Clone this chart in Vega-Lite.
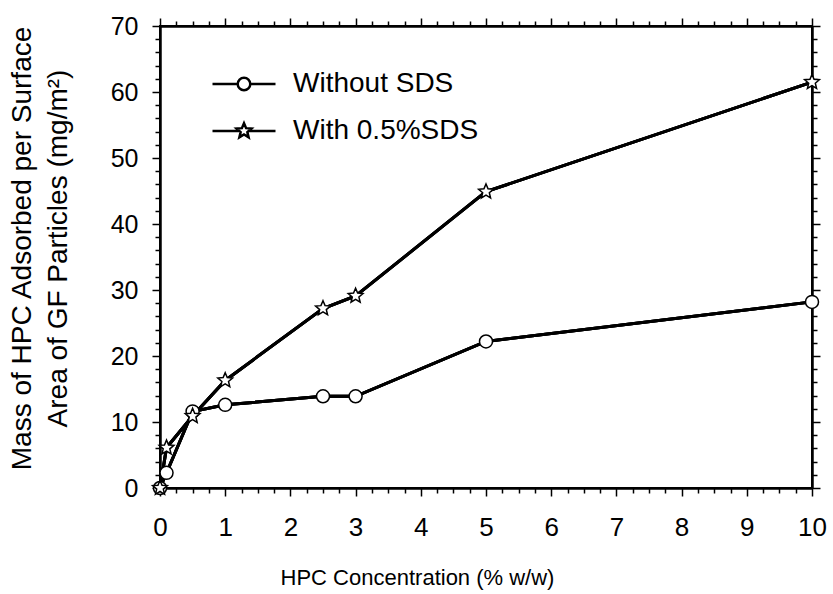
{
  "$schema": "https://vega.github.io/schema/vega-lite/v6.json",
  "autosize": "none",
  "width": 652,
  "height": 462,
  "padding": {"left": 160, "top": 26, "right": 21, "bottom": 106},
  "background": "white",
  "config": {
    "font": "Liberation Sans",
    "view": {"stroke": "black", "strokeWidth": 2}
  },
  "data": {
    "values": [
      {"conc": 0, "mass": 0, "series": "Without SDS"},
      {"conc": 0.1, "mass": 2.3, "series": "Without SDS"},
      {"conc": 0.5, "mass": 11.6, "series": "Without SDS"},
      {"conc": 1, "mass": 12.6, "series": "Without SDS"},
      {"conc": 2.5, "mass": 13.9, "series": "Without SDS"},
      {"conc": 3, "mass": 13.9, "series": "Without SDS"},
      {"conc": 5, "mass": 22.2, "series": "Without SDS"},
      {"conc": 10, "mass": 28.2, "series": "Without SDS"},
      {"conc": 0, "mass": 0, "series": "With 0.5%SDS"},
      {"conc": 0.1, "mass": 6.1, "series": "With 0.5%SDS"},
      {"conc": 0.5, "mass": 10.9, "series": "With 0.5%SDS"},
      {"conc": 1, "mass": 16.3, "series": "With 0.5%SDS"},
      {"conc": 2.5, "mass": 27.2, "series": "With 0.5%SDS"},
      {"conc": 3, "mass": 29.1, "series": "With 0.5%SDS"},
      {"conc": 5, "mass": 44.9, "series": "With 0.5%SDS"},
      {"conc": 10, "mass": 61.5, "series": "With 0.5%SDS"}
    ]
  },
  "resolve": {"axis": {"x": "independent", "y": "independent"}, "scale": {"shape": "independent"}},
  "layer": [
    {
      "mark": {"type": "line", "color": "black", "strokeWidth": 3, "clip": false},
      "encoding": {
        "x": {"field": "conc", "type": "quantitative", "scale": {"domain": [0, 10], "nice": false, "zero": false},
          "axis": {"orient": "bottom", "title": null, "labels": false, "grid": false, "tickSize": 5, "tickColor": "black", "tickWidth": 1.5, "domainColor": "black", "domainWidth": 2,
            "values": [0.25,0.5,0.75,1.25,1.5,1.75,2.25,2.5,2.75,3.25,3.5,3.75,4.25,4.5,4.75,5.25,5.5,5.75,6.25,6.5,6.75,7.25,7.5,7.75,8.25,8.5,8.75,9.25,9.5,9.75]}},
        "y": {"field": "mass", "type": "quantitative", "scale": {"domain": [0, 70], "nice": false},
          "axis": {"orient": "left", "title": null, "labels": false, "grid": false, "tickSize": 5, "tickColor": "black", "tickWidth": 1.5, "domainColor": "black", "domainWidth": 2,
            "values": [2,4,6,8,12,14,16,18,22,24,26,28,32,34,36,38,42,44,46,48,52,54,56,58,62,64,66,68]}},
        "detail": {"field": "series"}
      }
    },
    {
      "mark": {"type": "line", "color": "black", "strokeWidth": 3, "clip": false},
      "encoding": {
        "x": {"field": "conc", "type": "quantitative", "scale": {"domain": [0, 10], "nice": false, "zero": false},
          "axis": {"orient": "top", "title": null, "labels": false, "grid": false, "tickSize": 5, "tickColor": "black", "tickWidth": 1.5, "domainColor": "black", "domainWidth": 2,
            "values": [0.25,0.5,0.75,1.25,1.5,1.75,2.25,2.5,2.75,3.25,3.5,3.75,4.25,4.5,4.75,5.25,5.5,5.75,6.25,6.5,6.75,7.25,7.5,7.75,8.25,8.5,8.75,9.25,9.5,9.75]}},
        "y": {"field": "mass", "type": "quantitative", "scale": {"domain": [0, 70], "nice": false},
          "axis": {"orient": "right", "title": null, "labels": false, "grid": false, "tickSize": 5, "tickColor": "black", "tickWidth": 1.5, "domainColor": "black", "domainWidth": 2,
            "values": [2,4,6,8,12,14,16,18,22,24,26,28,32,34,36,38,42,44,46,48,52,54,56,58,62,64,66,68]}},
        "detail": {"field": "series"}
      }
    },
    {
      "mark": {"type": "line", "color": "black", "strokeWidth": 3, "clip": false},
      "encoding": {
        "x": {"field": "conc", "type": "quantitative", "scale": {"domain": [0, 10], "nice": false, "zero": false},
          "axis": {"orient": "bottom", "title": "HPC Concentration (% w/w)", "titleFontSize": 22, "titlePadding": 27, "titleX": 257, "titleColor": "black", "titleFontWeight": "normal",
            "values": [0,1,2,3,4,5,6,7,8,9,10], "format": "d", "grid": false, "tickSize": 8, "tickColor": "black", "tickWidth": 1.5, "domainColor": "black", "domainWidth": 2,
            "labelColor": "black", "labelFontSize": 26, "labelPadding": 18, "labelFlush": false, "labelOverlap": false}},
        "y": {"field": "mass", "type": "quantitative", "scale": {"domain": [0, 70], "nice": false},
          "axis": {"orient": "left", "title": ["Mass of HPC Adsorbed per Surface", "Area of GF Particles (mg/m²)"], "titleFontSize": 28, "titleLineHeight": 36, "titlePadding": 38, "titleY": 222, "titleColor": "black", "titleFontWeight": "normal",
            "values": [0,10,20,30,40,50,60,70], "format": "d", "grid": false, "tickSize": 8, "tickColor": "black", "tickWidth": 1.5, "domainColor": "black", "domainWidth": 2,
            "labelColor": "black", "labelFontSize": 25, "labelPadding": 14, "labelFlush": false, "labelOverlap": false}},
        "detail": {"field": "series"}
      }
    },
    {
      "mark": {"type": "point", "filled": true, "fill": "white", "stroke": "black", "strokeWidth": 1.5, "opacity": 1, "clip": false},
      "encoding": {
        "x": {"field": "conc", "type": "quantitative", "scale": {"domain": [0, 10], "nice": false, "zero": false},
          "axis": {"orient": "top", "title": null, "labels": false, "grid": false, "tickSize": 8, "tickColor": "black", "tickWidth": 1.5, "domainColor": "black", "domainWidth": 2,
            "values": [0,1,2,3,4,5,6,7,8,9,10]}},
        "y": {"field": "mass", "type": "quantitative", "scale": {"domain": [0, 70], "nice": false},
          "axis": {"orient": "right", "title": null, "labels": false, "grid": false, "tickSize": 8, "tickColor": "black", "tickWidth": 1.5, "domainColor": "black", "domainWidth": 2,
            "values": [0,10,20,30,40,50,60,70]}},
        "shape": {"field": "series", "type": "nominal", "legend": null,
          "scale": {"domain": ["Without SDS", "With 0.5%SDS"],
            "range": ["circle", "M0,-1L0.265,-0.364L0.951,-0.309L0.428,0.139L0.588,0.809L0,0.45L-0.588,0.809L-0.428,0.139L-0.951,-0.309L-0.265,-0.364Z"]}},
        "size": {"condition": {"test": "datum.series === 'Without SDS'", "value": 169}, "value": 240}
      }
    },
    {
      "mark": {"type": "point", "filled": false, "color": "black", "strokeWidth": 2.5, "opacity": 0, "size": 3969},
      "encoding": {
        "x": {"field": "conc", "type": "quantitative", "scale": {"domain": [0, 10], "nice": false, "zero": false}, "axis": null},
        "y": {"field": "mass", "type": "quantitative", "scale": {"domain": [0, 70], "nice": false}, "axis": null},
        "shape": {"field": "series", "type": "nominal",
          "scale": {"domain": ["Without SDS", "With 0.5%SDS"],
            "range": ["M-1,0L-0.2,0M0.2,0L1,0M0.2,0A0.2,0.2,0,1,1,-0.2,0A0.2,0.2,0,1,1,0.2,0Z",
                      "M-1,0L-0.148,0M0.148,0L1,0M0,-0.25L0.0663,-0.091L0.2378,-0.0773L0.107,0.0348L0.147,0.2023L0,0.1125L-0.147,0.2023L-0.107,0.0348L-0.2378,-0.0773L-0.0663,-0.091Z"]},
          "legend": {"title": null, "orient": "none", "legendX": 51, "legendY": 25, "padding": 0,
            "symbolSize": 3969, "symbolStrokeWidth": 2.5, "symbolFillColor": "white", "symbolStrokeColor": "black", "symbolOpacity": 1,
            "labelFontSize": 28, "labelColor": "black", "labelOffset": 16, "rowPadding": -38, "labelLimit": 400}}
      }
    }
  ]
}
